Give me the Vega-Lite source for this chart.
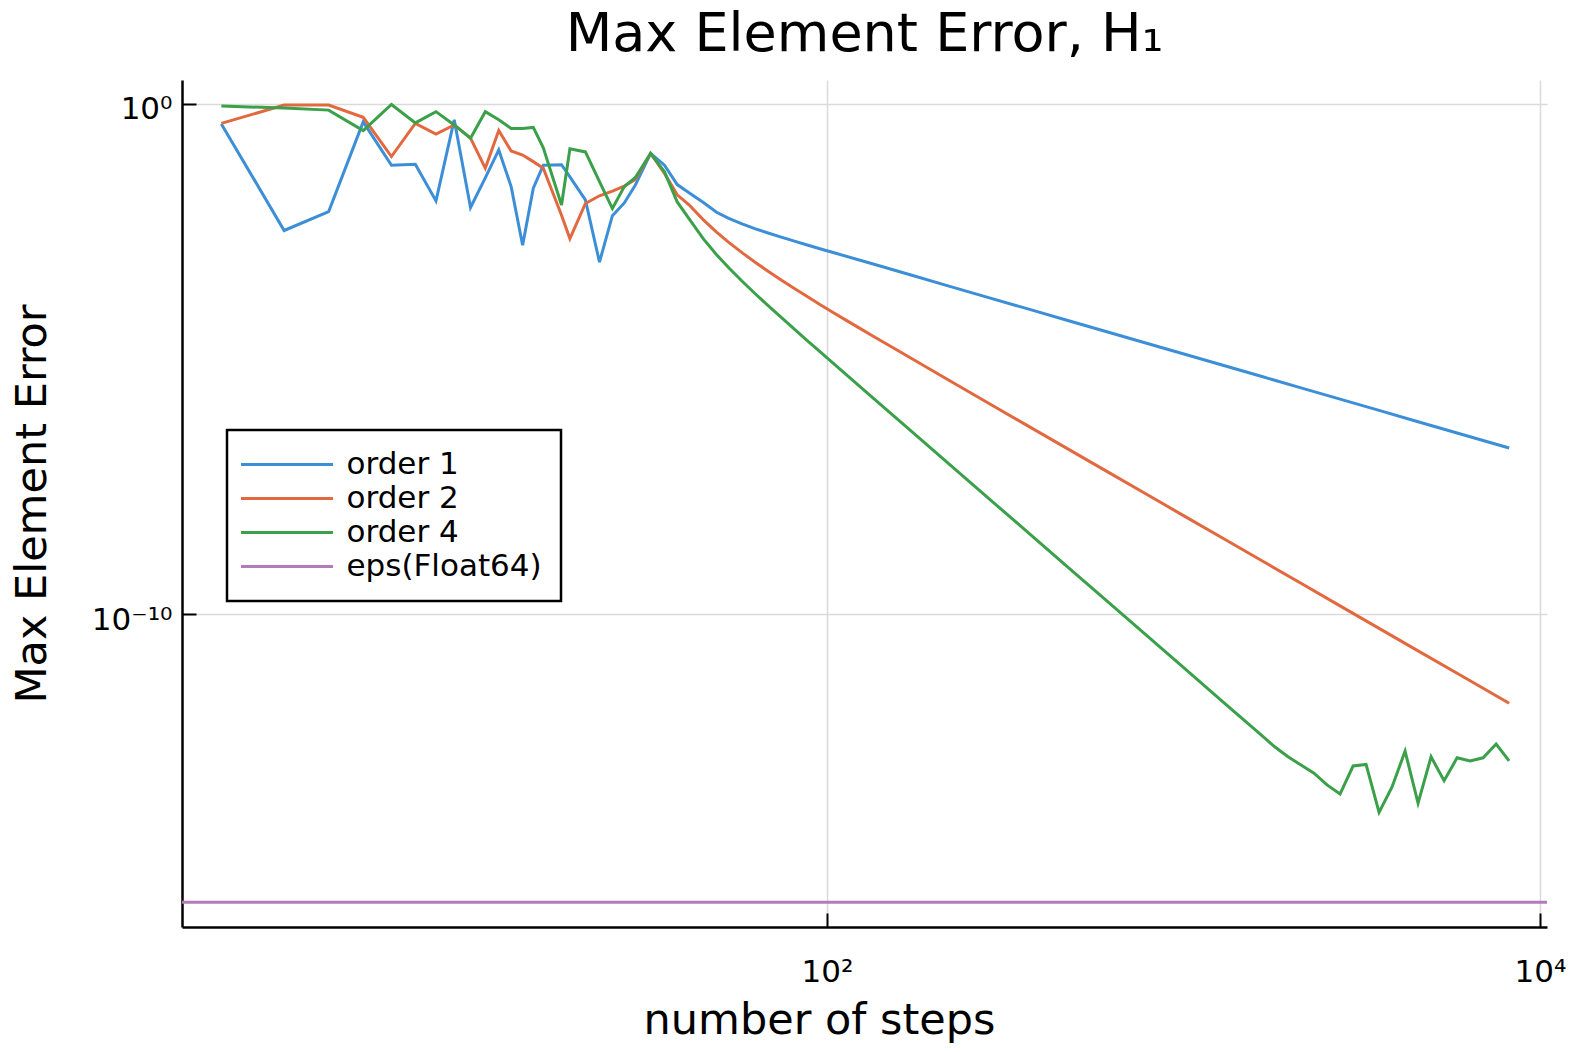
{
  "$schema": "https://vega.github.io/schema/vega-lite/v6.json",
  "width": 1365,
  "height": 847,
  "autosize": {"type": "none"},
  "padding": {"left": 182, "top": 80, "right": 31, "bottom": 125},
  "background": "white",
  "config": {"view": {"stroke": null}, "font": "DejaVu Sans", "legend": {"strokeWidth": 2.5}},
  "title": {"text": "Max Element Error, H₁", "fontSize": 54, "font": "DejaVu Sans", "fontWeight": "normal", "color": "black", "anchor": "middle", "baseline": "alphabetic", "offset": -25},
  "datasets": {
    "curves": [
      {"steps": 2, "error": 0.407, "label": "order 1"},
      {"steps": 3, "error": 0.003311, "label": "order 1"},
      {"steps": 4, "error": 0.007762, "label": "order 1"},
      {"steps": 5, "error": 0.4467, "label": "order 1"},
      {"steps": 6, "error": 0.0631, "label": "order 1"},
      {"steps": 7, "error": 0.0661, "label": "order 1"},
      {"steps": 8, "error": 0.01259, "label": "order 1"},
      {"steps": 9, "error": 0.4898, "label": "order 1"},
      {"steps": 10, "error": 0.009333, "label": "order 1"},
      {"steps": 11, "error": 0.03548, "label": "order 1"},
      {"steps": 12, "error": 0.1259, "label": "order 1"},
      {"steps": 13, "error": 0.02399, "label": "order 1"},
      {"steps": 14, "error": 0.001698, "label": "order 1"},
      {"steps": 15, "error": 0.02239, "label": "order 1"},
      {"steps": 16, "error": 0.0631, "label": "order 1"},
      {"steps": 18, "error": 0.0646, "label": "order 1"},
      {"steps": 19, "error": 0.03715, "label": "order 1"},
      {"steps": 21, "error": 0.01318, "label": "order 1"},
      {"steps": 23, "error": 0.0007943, "label": "order 1"},
      {"steps": 25, "error": 0.006457, "label": "order 1"},
      {"steps": 27, "error": 0.01148, "label": "order 1"},
      {"steps": 29, "error": 0.0257, "label": "order 1"},
      {"steps": 32, "error": 0.1072, "label": "order 1"},
      {"steps": 35, "error": 0.0631, "label": "order 1"},
      {"steps": 38, "error": 0.0263, "label": "order 1"},
      {"steps": 41, "error": 0.0182, "label": "order 1"},
      {"steps": 45, "error": 0.01175, "label": "order 1"},
      {"steps": 49, "error": 0.007551, "label": "order 1"},
      {"steps": 53, "error": 0.005728, "label": "order 1"},
      {"steps": 58, "error": 0.004406, "label": "order 1"},
      {"steps": 63, "error": 0.003573, "label": "order 1"},
      {"steps": 68, "error": 0.002985, "label": "order 1"},
      {"steps": 74, "error": 0.002477, "label": "order 1"},
      {"steps": 81, "error": 0.002046, "label": "order 1"},
      {"steps": 88, "error": 0.001718, "label": "order 1"},
      {"steps": 95, "error": 0.001469, "label": "order 1"},
      {"steps": 104, "error": 0.001225, "label": "order 1"},
      {"steps": 134, "error": 7.362e-4, "label": "order 1"},
      {"steps": 172, "error": 4.426e-4, "label": "order 1"},
      {"steps": 221, "error": 2.661e-4, "label": "order 1"},
      {"steps": 284, "error": 1.596e-4, "label": "order 1"},
      {"steps": 366, "error": 9.594e-5, "label": "order 1"},
      {"steps": 471, "error": 5.768e-5, "label": "order 1"},
      {"steps": 606, "error": 3.467e-5, "label": "order 1"},
      {"steps": 779, "error": 2.084e-5, "label": "order 1"},
      {"steps": 1003, "error": 1.253e-5, "label": "order 1"},
      {"steps": 1290, "error": 7.534e-6, "label": "order 1"},
      {"steps": 1660, "error": 4.529e-6, "label": "order 1"},
      {"steps": 2136, "error": 2.723e-6, "label": "order 1"},
      {"steps": 2749, "error": 1.637e-6, "label": "order 1"},
      {"steps": 3537, "error": 9.817e-7, "label": "order 1"},
      {"steps": 4550, "error": 5.902e-7, "label": "order 1"},
      {"steps": 5855, "error": 3.548e-7, "label": "order 1"},
      {"steps": 7533, "error": 2.133e-7, "label": "order 1"},
      {"steps": 8192, "error": 1.799e-7, "label": "order 1"},

      {"steps": 2, "error": 0.4169, "label": "order 2"},
      {"steps": 3, "error": 0.955, "label": "order 2"},
      {"steps": 4, "error": 0.955, "label": "order 2"},
      {"steps": 5, "error": 0.5495, "label": "order 2"},
      {"steps": 6, "error": 0.09333, "label": "order 2"},
      {"steps": 7, "error": 0.4169, "label": "order 2"},
      {"steps": 8, "error": 0.257, "label": "order 2"},
      {"steps": 9, "error": 0.389, "label": "order 2"},
      {"steps": 10, "error": 0.2138, "label": "order 2"},
      {"steps": 11, "error": 0.05495, "label": "order 2"},
      {"steps": 12, "error": 0.302, "label": "order 2"},
      {"steps": 13, "error": 0.1202, "label": "order 2"},
      {"steps": 14, "error": 0.1, "label": "order 2"},
      {"steps": 15, "error": 0.07413, "label": "order 2"},
      {"steps": 16, "error": 0.05495, "label": "order 2"},
      {"steps": 18, "error": 0.006607, "label": "order 2"},
      {"steps": 19, "error": 0.002291, "label": "order 2"},
      {"steps": 21, "error": 0.01122, "label": "order 2"},
      {"steps": 23, "error": 0.01585, "label": "order 2"},
      {"steps": 25, "error": 0.0195, "label": "order 2"},
      {"steps": 27, "error": 0.02455, "label": "order 2"},
      {"steps": 29, "error": 0.03311, "label": "order 2"},
      {"steps": 32, "error": 0.1072, "label": "order 2"},
      {"steps": 35, "error": 0.04365, "label": "order 2"},
      {"steps": 38, "error": 0.0166, "label": "order 2"},
      {"steps": 41, "error": 0.01057, "label": "order 2"},
      {"steps": 45, "error": 0.005358, "label": "order 2"},
      {"steps": 49, "error": 0.003083, "label": "order 2"},
      {"steps": 53, "error": 0.001936, "label": "order 2"},
      {"steps": 58, "error": 0.001189, "label": "order 2"},
      {"steps": 63, "error": 7.78e-4, "label": "order 2"},
      {"steps": 68, "error": 5.383e-4, "label": "order 2"},
      {"steps": 74, "error": 3.622e-4, "label": "order 2"},
      {"steps": 81, "error": 2.41e-4, "label": "order 2"},
      {"steps": 88, "error": 1.675e-4, "label": "order 2"},
      {"steps": 95, "error": 1.202e-4, "label": "order 2"},
      {"steps": 104, "error": 8.185e-5, "label": "order 2"},
      {"steps": 113, "error": 5.794e-5, "label": "order 2"},
      {"steps": 123, "error": 4.074e-5, "label": "order 2"},
      {"steps": 134, "error": 2.864e-5, "label": "order 2"},
      {"steps": 158, "error": 1.469e-5, "label": "order 2"},
      {"steps": 221, "error": 3.741e-6, "label": "order 2"},
      {"steps": 284, "error": 1.358e-6, "label": "order 2"},
      {"steps": 366, "error": 4.887e-7, "label": "order 2"},
      {"steps": 471, "error": 1.77e-7, "label": "order 2"},
      {"steps": 606, "error": 6.397e-8, "label": "order 2"},
      {"steps": 779, "error": 2.328e-8, "label": "order 2"},
      {"steps": 1003, "error": 8.414e-9, "label": "order 2"},
      {"steps": 1290, "error": 3.048e-9, "label": "order 2"},
      {"steps": 1660, "error": 1.104e-9, "label": "order 2"},
      {"steps": 2136, "error": 3.999e-10, "label": "order 2"},
      {"steps": 2749, "error": 1.445e-10, "label": "order 2"},
      {"steps": 3537, "error": 5.236e-11, "label": "order 2"},
      {"steps": 4550, "error": 1.897e-11, "label": "order 2"},
      {"steps": 5855, "error": 6.871e-12, "label": "order 2"},
      {"steps": 7533, "error": 2.489e-12, "label": "order 2"},
      {"steps": 8192, "error": 1.774e-12, "label": "order 2"},

      {"steps": 2, "error": 0.912, "label": "order 4"},
      {"steps": 3, "error": 0.832, "label": "order 4"},
      {"steps": 4, "error": 0.759, "label": "order 4"},
      {"steps": 5, "error": 0.302, "label": "order 4"},
      {"steps": 6, "error": 0.977, "label": "order 4"},
      {"steps": 7, "error": 0.4266, "label": "order 4"},
      {"steps": 8, "error": 0.7079, "label": "order 4"},
      {"steps": 9, "error": 0.389, "label": "order 4"},
      {"steps": 10, "error": 0.2138, "label": "order 4"},
      {"steps": 11, "error": 0.7079, "label": "order 4"},
      {"steps": 12, "error": 0.4898, "label": "order 4"},
      {"steps": 13, "error": 0.3311, "label": "order 4"},
      {"steps": 14, "error": 0.3311, "label": "order 4"},
      {"steps": 15, "error": 0.3467, "label": "order 4"},
      {"steps": 16, "error": 0.138, "label": "order 4"},
      {"steps": 18, "error": 0.01047, "label": "order 4"},
      {"steps": 19, "error": 0.1318, "label": "order 4"},
      {"steps": 21, "error": 0.1148, "label": "order 4"},
      {"steps": 23, "error": 0.0302, "label": "order 4"},
      {"steps": 25, "error": 0.008913, "label": "order 4"},
      {"steps": 27, "error": 0.02399, "label": "order 4"},
      {"steps": 29, "error": 0.03631, "label": "order 4"},
      {"steps": 32, "error": 0.1072, "label": "order 4"},
      {"steps": 35, "error": 0.04677, "label": "order 4"},
      {"steps": 38, "error": 0.01202, "label": "order 4"},
      {"steps": 41, "error": 0.005649, "label": "order 4"},
      {"steps": 45, "error": 0.002265, "label": "order 4"},
      {"steps": 49, "error": 0.001109, "label": "order 4"},
      {"steps": 53, "error": 6.138e-4, "label": "order 4"},
      {"steps": 58, "error": 3.266e-4, "label": "order 4"},
      {"steps": 63, "error": 1.884e-4, "label": "order 4"},
      {"steps": 68, "error": 1.148e-4, "label": "order 4"},
      {"steps": 74, "error": 6.745e-5, "label": "order 4"},
      {"steps": 81, "error": 3.837e-5, "label": "order 4"},
      {"steps": 88, "error": 2.301e-5, "label": "order 4"},
      {"steps": 95, "error": 1.442e-5, "label": "order 4"},
      {"steps": 104, "error": 8.299e-6, "label": "order 4"},
      {"steps": 134, "error": 1.77e-6, "label": "order 4"},
      {"steps": 172, "error": 3.89e-7, "label": "order 4"},
      {"steps": 221, "error": 8.492e-8, "label": "order 4"},
      {"steps": 284, "error": 1.854e-8, "label": "order 4"},
      {"steps": 366, "error": 3.981e-9, "label": "order 4"},
      {"steps": 471, "error": 8.61e-10, "label": "order 4"},
      {"steps": 606, "error": 1.862e-10, "label": "order 4"},
      {"steps": 779, "error": 4.064e-11, "label": "order 4"},
      {"steps": 1003, "error": 8.75e-12, "label": "order 4"},
      {"steps": 1290, "error": 1.901e-12, "label": "order 4"},
      {"steps": 1660, "error": 4.111e-13, "label": "order 4"},
      {"steps": 1806, "error": 2.466e-13, "label": "order 4"},
      {"steps": 1964, "error": 1.585e-13, "label": "order 4"},
      {"steps": 2136, "error": 1.096e-13, "label": "order 4"},
      {"steps": 2323, "error": 7.586e-14, "label": "order 4"},
      {"steps": 2527, "error": 4.467e-14, "label": "order 4"},
      {"steps": 2749, "error": 2.951e-14, "label": "order 4"},
      {"steps": 2990, "error": 1.047e-13, "label": "order 4"},
      {"steps": 3252, "error": 1.122e-13, "label": "order 4"},
      {"steps": 3537, "error": 1.288e-14, "label": "order 4"},
      {"steps": 3846, "error": 4.074e-14, "label": "order 4"},
      {"steps": 4184, "error": 2.042e-13, "label": "order 4"},
      {"steps": 4550, "error": 1.95e-14, "label": "order 4"},
      {"steps": 4949, "error": 1.585e-13, "label": "order 4"},
      {"steps": 5383, "error": 5.37e-14, "label": "order 4"},
      {"steps": 5855, "error": 1.514e-13, "label": "order 4"},
      {"steps": 6368, "error": 1.318e-13, "label": "order 4"},
      {"steps": 6926, "error": 1.514e-13, "label": "order 4"},
      {"steps": 7533, "error": 2.818e-13, "label": "order 4"},
      {"steps": 8192, "error": 1.318e-13, "label": "order 4"}
    ],
    "eps": [{"error": 2.220446e-16, "label": "eps(Float64)"}]
  },
  "layer": [
    {
      "data": {"name": "curves"},
      "mark": {"type": "line", "strokeWidth": 3},
      "encoding": {
        "x": {
          "field": "steps", "type": "quantitative",
          "scale": {"type": "log", "domain": [1.551, 10464], "nice": false},
          "axis": {
            "values": [100, 10000],
            "labelExpr": "datum.value < 1000 ? '10²' : '10⁴'",
            "grid": true, "gridColor": "#dadada", "gridWidth": 1.5,
            "domainColor": "black", "domainWidth": 2.5,
            "tickColor": "black", "tickWidth": 2, "tickSize": -14,
            "labelFont": "DejaVu Sans", "labelFontSize": 31, "labelColor": "black",
            "labelBaseline": "alphabetic", "labelPadding": 68, "labelFlush": false, "labelOverlap": false,
            "title": "number of steps", "titleFont": "DejaVu Sans", "titleFontSize": 43, "titleFontWeight": "normal", "titleColor": "black",
            "titleBaseline": "alphabetic", "titleX": 637, "titleY": 106.5
          }
        },
        "y": {
          "field": "error", "type": "quantitative",
          "scale": {"type": "log", "domain": [7.295e-17, 2.955], "nice": false},
          "axis": {
            "values": [1, 1e-10],
            "labelExpr": "datum.value > 0.5 ? '10⁰' : '10⁻¹⁰'",
            "grid": true, "gridColor": "#dadada", "gridWidth": 1.5,
            "domainColor": "black", "domainWidth": 2.5,
            "tickColor": "black", "tickWidth": 2, "tickSize": -14,
            "labelFont": "DejaVu Sans", "labelFontSize": 31, "labelColor": "black",
            "labelAlign": "right", "labelBaseline": "alphabetic", "labelOffset": 15, "labelPadding": 24, "labelFlush": false, "labelOverlap": false,
            "title": "Max Element Error", "titleFont": "DejaVu Sans", "titleFontSize": 43, "titleFontWeight": "normal", "titleColor": "black",
            "titleBaseline": "alphabetic", "titleX": -136.7, "titleY": 423.5, "titleAngle": 270
          }
        },
        "color": {
          "field": "label", "type": "nominal",
          "scale": {"domain": ["order 1", "order 2", "order 4", "eps(Float64)"], "range": ["#3c8fd7", "#e2693f", "#3aa04a", "#b57abb"]},
          "legend": {
            "orient": "none", "legendX": 45, "legendY": 350, "title": null,
            "strokeColor": "black", "fillColor": "white", "padding": 19, "cornerRadius": 0,
            "symbolType": "M-4,0H4", "symbolSize": 529, "symbolStrokeWidth": 3, "symbolOffset": 25.5,
            "labelFont": "DejaVu Sans", "labelFontSize": 31, "labelColor": "black", "labelOffset": 44, "labelLimit": 400,
            "rowPadding": 2
          }
        }
      }
    },
    {
      "data": {"name": "eps"},
      "mark": {"type": "rule", "strokeWidth": 3},
      "encoding": {
        "y": {"field": "error", "type": "quantitative"},
        "color": {"field": "label", "type": "nominal"}
      }
    }
  ]
}
